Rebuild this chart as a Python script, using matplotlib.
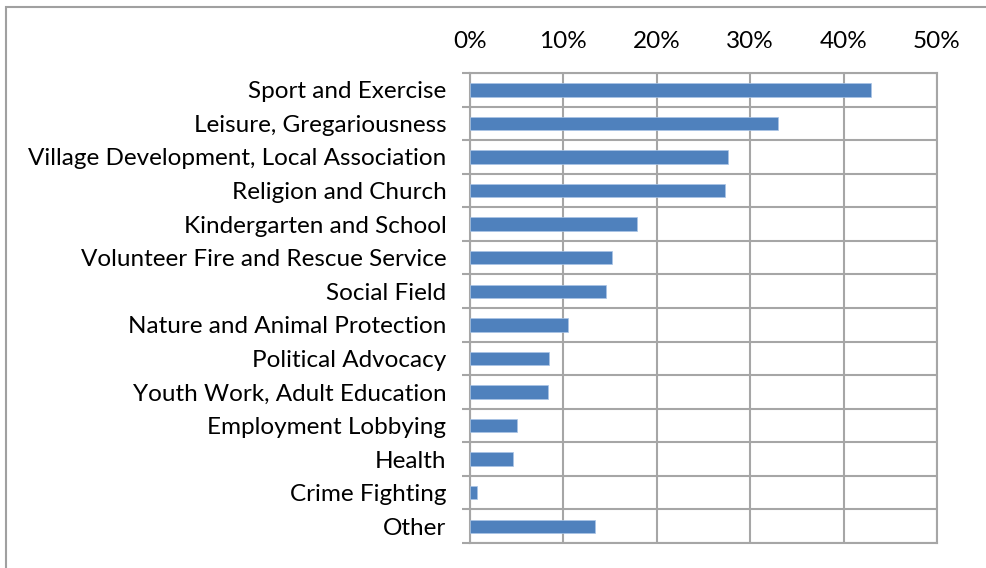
import matplotlib
matplotlib.use("Agg")
import matplotlib.pyplot as plt
from matplotlib.patches import Rectangle
from matplotlib.ticker import FixedLocator, PercentFormatter

# data (share of respondents, %)
categories = [
    "Sport and Exercise",
    "Leisure, Gregariousness",
    "Village Development, Local Association",
    "Religion and Church",
    "Kindergarten and School",
    "Volunteer Fire and Rescue Service",
    "Social Field",
    "Nature and Animal Protection",
    "Political Advocacy",
    "Youth Work, Adult Education",
    "Employment Lobbying",
    "Health",
    "Crime Fighting",
    "Other",
]
values = [42.9, 33.0, 27.6, 27.3, 17.9, 15.2, 14.6, 10.5, 8.5, 8.4, 5.0, 4.6, 0.7, 13.4]
x_ticks = [0, 10, 20, 30, 40, 50]

plt.rcParams['font.family'] = ['Lato', 'DejaVu Sans']
grid_col = "#a6a6a6"

fig = plt.figure(figsize=(9.87, 5.68), dpi=100)
ax = fig.add_axes([470 / 987, 1 - 543 / 568, 467 / 987, 470 / 568])

n = len(categories)
ypos = list(range(n))
ax.barh(ypos, values, height=0.4, color="#4f81bd", edgecolor="#a9c4e6", linewidth=0.5, zorder=3)

ax.set_xlim(0, 50)
ax.set_ylim(n - 0.5, -0.5)
ax.xaxis.tick_top()
ax.set_xticks(x_ticks)
ax.xaxis.set_major_formatter(PercentFormatter(decimals=0))
ax.tick_params(axis="x", length=0, pad=15, labelsize=17.5)

ax.set_yticks(ypos)
ax.set_yticklabels(categories)
ax.tick_params(axis="y", which="major", length=0, pad=17, labelsize=17.5)
ax.yaxis.set_minor_locator(FixedLocator([i - 0.5 for i in range(n + 1)]))
ax.tick_params(axis="y", which="minor", length=6, width=1.5, color=grid_col)

ax.grid(axis="x", which="major", color=grid_col, linewidth=1.5, zorder=0)
ax.grid(axis="y", which="minor", color=grid_col, linewidth=1.5, zorder=0)
for s in ax.spines.values():
    s.set_color(grid_col)
    s.set_linewidth(1.5)

# outer chart border (only top and left edges visible in the crop)
fig.patches.append(Rectangle((6 / 987, -0.1), 1.2, 1 - 7 / 568 + 0.1,
                             transform=fig.transFigure, fill=False,
                             edgecolor="#a0a0a0", linewidth=1.5))

fig.savefig("out.png", dpi=100)
